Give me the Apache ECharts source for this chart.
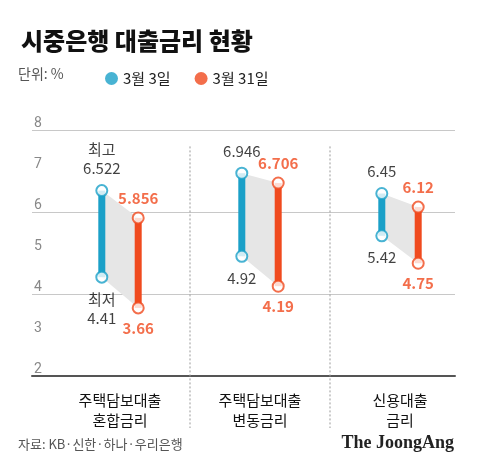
<!DOCTYPE html>
<html>
<head>
<meta charset="utf-8">
<script src="https://cdn.jsdelivr.net/npm/echarts@6/dist/echarts.min.js"></script>
<style>
  body{margin:0;background:#fff;}
  #chart{width:480px;height:476px;}
</style>
</head>
<body>
<div id="chart"></div>
<script>
// 데이터
let categories = ['주택담보대출\n혼합금리', '주택담보대출\n변동금리', '신용대출\n금리'];
let marHigh = [6.522, 6.946, 6.45];   // 3월 3일 최고
let marLow = [4.41, 4.92, 5.42];      // 3월 3일 최저
let endHigh = [5.856, 6.706, 6.12];   // 3월 31일 최고
let endLow = [3.66, 4.19, 4.75];      // 3월 31일 최저
let yTicks = [2, 3, 4, 5, 6, 7, 8];

const BLUE = '#1aa0c8', RED = '#f04a1e';
const OFF = 0.13;

let myChart = echarts.init(document.getElementById('chart'));

function pts(arr, dx) { return arr.map((v, i) => [i + 0.5 + dx, v]); }

function fmt(v) { return String(v); }

let option = {
  animation: false,
  textStyle: {fontFamily: 'Noto Sans CJK KR'},
  title: {
    text: '시중은행 대출금리 현황', left: 16, top: 24,
    textStyle: {fontSize: 24, fontWeight: 900, color: '#111'}
  },
  legend: {
    left: 100, top: 66, itemWidth: 13, itemHeight: 13, itemGap: 24,
    icon: 'circle',
    textStyle: {fontSize: 15, color: '#222'},
    data: [{name: '3월 3일', itemStyle: {color: BLUE, borderWidth: 0}},
           {name: '3월 31일', itemStyle: {color: RED, borderWidth: 0}}]
  },
  graphic: [
    {type: 'text', left: 18, top: 67, style: {text: '단위: %', fill: '#555', font: '14px Noto Sans CJK KR'}},
    {type: 'text', left: 18, top: 438, style: {text: '자료: KB·신한·하나·우리은행', fill: '#555', font: '13px Noto Sans CJK KR'}},
    {type: 'text', right: 26, top: 434, style: {text: 'The JoongAng', fill: '#222', font: 'bold 18px Liberation Serif'}}
  ],
  grid: {left: 32, right: 25, top: 130, bottom: 100},
  xAxis: {
    type: 'value', min: -18 / 140, max: 3 - 15 / 140,
    axisLine: {show: true, onZero: false, lineStyle: {color: '#555', width: 2}},
    axisTick: {show: false}, axisLabel: {show: false}, splitLine: {show: false}
  },
  yAxis: {
    type: 'value', min: 2, max: 8, interval: 1,
    axisLine: {show: false}, axisTick: {show: false},
    axisLabel: {inside: true, verticalAlign: 'bottom', margin: 2, color: '#888', fontSize: 14,
      fontFamily: 'Roboto', formatter: v => yTicks.indexOf(v) >= 0 ? v : ''},
    splitLine: {lineStyle: {color: ['transparent', 'transparent', '#c8c8c8', 'transparent', '#c8c8c8', 'transparent', '#c8c8c8'], width: 1}}
  },
  series: [
    {
      // 음영 + 막대 + 구분선 + 카테고리
      type: 'custom', name: 'bars', silent: true,
      data: categories.map((c, i) => i),
      renderItem: function (params, api) {
        let i = api.value(0);
        let bt = api.coord([i + 0.5 - OFF, marHigh[i]]), bb = api.coord([i + 0.5 - OFF, marLow[i]]);
        let rt = api.coord([i + 0.5 + OFF, endHigh[i]]), rb = api.coord([i + 0.5 + OFF, endLow[i]]);
        let base = api.coord([i + 0.5, 2]);
        let children = [
          {type: 'polygon', shape: {points: [bt, rt, rb, bb]}, style: {fill: '#e6e6e6'}},
          {type: 'line', shape: {x1: bt[0], y1: bt[1], x2: bb[0], y2: bb[1]}, style: {stroke: BLUE, lineWidth: 7}},
          {type: 'line', shape: {x1: rt[0], y1: rt[1], x2: rb[0], y2: rb[1]}, style: {stroke: RED, lineWidth: 7}},
          {type: 'text', x: base[0], y: base[1] + 14, style: {text: categories[i], fill: '#111', align: 'center',
            font: '15px Noto Sans CJK KR', lineHeight: 20}}
        ];
        if (i > 0) {
          let d = api.coord([i, 7.6]);
          children.push({type: 'line', shape: {x1: d[0], y1: d[1], x2: d[0], y2: base[1] + 52},
            style: {stroke: '#999', lineWidth: 1, lineDash: [2, 2]}});
        }
        return {type: 'group', children: children};
      }
    },
    {
      type: 'scatter', name: '3월 3일', symbolSize: 11, z: 5,
      itemStyle: {color: '#fff', borderColor: BLUE, borderWidth: 2},
      data: pts(marHigh, -OFF).map((p, i) => ({value: p, label: {show: true, position: 'top', distance: 6,
          formatter: i === 0 ? '최고\n' + fmt(marHigh[i]) : fmt(marHigh[i])}}))
        .concat(pts(marLow, -OFF).map((p, i) => ({value: p, label: {show: true, position: 'bottom', distance: 6,
          formatter: i === 0 ? '최저\n' + fmt(marLow[i]) : fmt(marLow[i])}}))),
      label: {color: '#111', fontSize: 15, lineHeight: 19, fontFamily: 'Noto Sans CJK KR'}
    },
    {
      type: 'scatter', name: '3월 31일', symbolSize: 11, z: 5,
      itemStyle: {color: '#fff', borderColor: RED, borderWidth: 2},
      data: pts(endHigh, OFF).map(p => ({value: p, label: {show: true, position: 'top', distance: 6}}))
        .concat(pts(endLow, OFF).map(p => ({value: p, label: {show: true, position: 'bottom', distance: 6}}))),
      label: {color: RED, fontSize: 15, fontWeight: 'bold', fontFamily: 'Noto Sans CJK KR', formatter: p => fmt(p.value[1])}
    }
  ]
};
myChart.setOption(option);
</script>
</body>
</html>
